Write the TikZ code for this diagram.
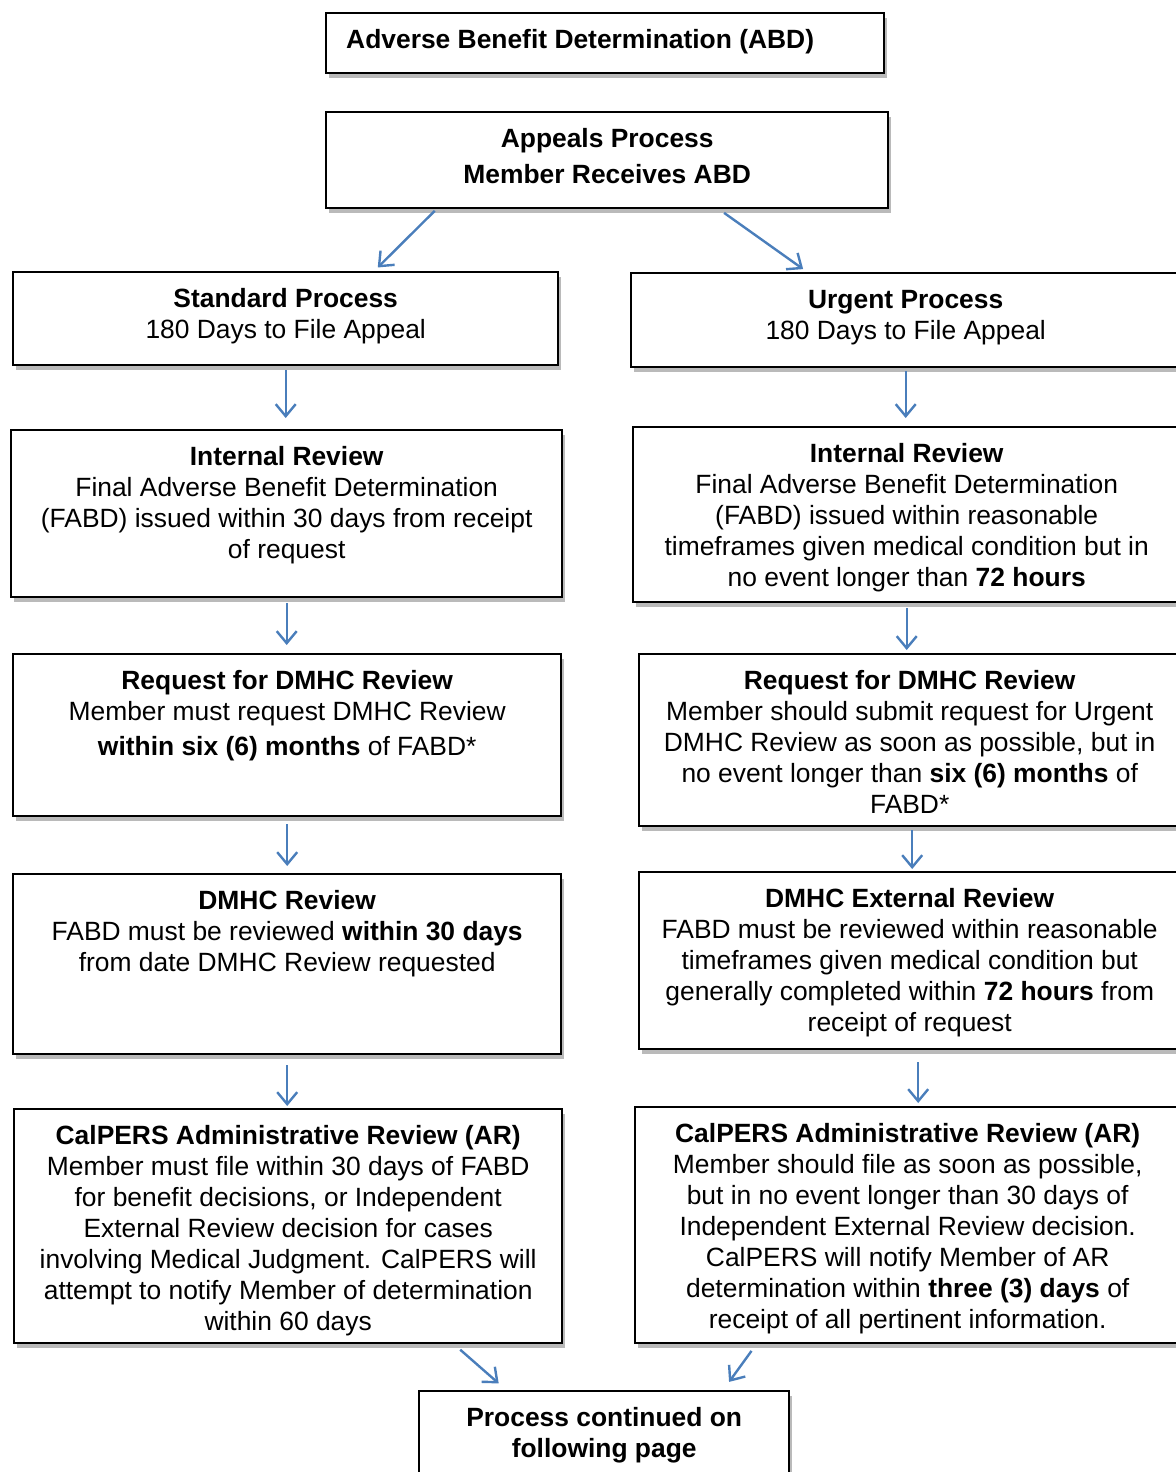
\documentclass[tikz,border=0pt]{standalone}
\usepackage{fontspec}
\setmainfont{Liberation Sans}
\usetikzlibrary{arrows.meta,shadows}
\definecolor{flowBlue}{HTML}{4A7EBB}
\tikzset{stepbox/.style={black,draw=black,fill=white,rectangle,line width=1.2pt,anchor=north west,inner xsep=4pt,inner ysep=0pt,font=\fontsize{13.2}{15.5}\selectfont,drop shadow={shadow xshift=1.2pt,shadow yshift=-2.2pt,opacity=0.45,fill=black!60}}}
\tikzset{flow/.style={draw=flowBlue,line width=1.2pt,-{Straight Barb[length=6pt,width=10pt]}}}
\newcommand{\boxtext}[3]{\parbox[c][#2][t]{\dimexpr#1-8pt\relax}{\centering\rule{0pt}{17.7pt}#3}}

\begin{document}
\begin{tikzpicture}[x=0.5pt,y=-0.5pt]
                \useasboundingbox (0,0) rectangle (1175,1472);

                \node[stepbox] (abd) at (325,12) {\boxtext{279pt}{30pt}{\raggedright\hspace*{6pt}\textbf{Adverse Benefit Determination (ABD)}}};
                \node[stepbox] (appeals) at (325,111) {\boxtext{281pt}{48pt}{\textbf{Appeals Process}\\[2.5pt]\textbf{Member Receives ABD}}};

                % standard process
                \node[stepbox] (standard) at (12,271) {\boxtext{272.5pt}{46.5pt}{\textbf{Standard Process}\\180 Days to File Appeal}};
                \node[stepbox] (stdInternal) at (10,429) {\boxtext{275.5pt}{83.5pt}{\textbf{Internal Review}\\Final Adverse Benefit Determination\\(FABD) issued within 30 days from receipt\\of request}};
                \node[stepbox] (stdRequest) at (12,653) {\boxtext{274pt}{81pt}{\textbf{Request for DMHC Review}\\Member must request DMHC Review\\[2pt]\textbf{within six (6) months} of FABD*}};
                \node[stepbox] (stdDmhc) at (12,873) {\boxtext{274pt}{90pt}{\textbf{DMHC Review}\\FABD must be reviewed \textbf{within 30 days}\\from date DMHC Review requested}};
                \node[stepbox] (stdCalpers) at (13,1108) {\boxtext{274pt}{117pt}{\textbf{CalPERS Administrative Review (AR)}\\Member must file within 30 days of FABD\\for benefit decisions, or Independent\\External Review decision for cases\\involving Medical Judgment. CalPERS will\\attempt to notify Member of determination\\within 60 days}};

                % urgent process
                \node[stepbox] (urgent) at (630,272) {\boxtext{274.5pt}{47pt}{\textbf{Urgent Process}\\180 Days to File Appeal}};
                \node[stepbox] (urgInternal) at (632,426) {\boxtext{273.5pt}{87.5pt}{\textbf{Internal Review}\\Final Adverse Benefit Determination\\(FABD) issued within reasonable\\timeframes given medical condition but in\\no event longer than \textbf{72 hours}}};
                \node[stepbox] (urgRequest) at (638,653) {\boxtext{270.5pt}{86pt}{\textbf{Request for DMHC Review}\\Member should submit request for Urgent\\DMHC Review as soon as possible, but in\\no event longer than \textbf{six (6) months} of\\FABD*}};
                \node[stepbox] (urgDmhc) at (638,871) {\boxtext{270.5pt}{88.5pt}{\textbf{DMHC External Review}\\FABD must be reviewed within reasonable\\timeframes given medical condition but\\generally completed within \textbf{72 hours} from\\receipt of request}};
                \node[stepbox] (urgCalpers) at (634,1106) {\boxtext{272.5pt}{118pt}{\textbf{CalPERS Administrative Review (AR)}\\Member should file as soon as possible,\\but in no event longer than 30 days of\\Independent External Review decision.\\CalPERS will notify Member of AR\\determination within \textbf{three (3) days} of\\receipt of all pertinent information.}};

                \node[stepbox] (continued) at (418,1390) {\boxtext{185pt}{47.5pt}{\textbf{Process continued on}\\\textbf{following page}}};

                \draw[flow,shorten <=1pt,shorten >=2.5pt] ([xshift=-85.5pt]appeals.south) -- ([xshift=44.25pt]standard.north);
                \draw[flow,shorten <=3pt,shorten >=2.5pt] ([xshift=56pt]appeals.south) -- ([xshift=-49.25pt]urgent.north);
                \draw[flow,shorten <=2pt,shorten >=5.5pt] (standard.south) -- (standard.south |- stdInternal.north);
                \draw[flow,shorten <=2.5pt,shorten >=4pt] (stdInternal.south) -- (stdInternal.south |- stdRequest.north);
                \draw[flow,shorten <=3.5pt,shorten >=3.5pt] (stdRequest.south) -- (stdRequest.south |- stdDmhc.north);
                \draw[flow,shorten <=5pt,shorten >=1pt] (stdDmhc.south) -- (stdDmhc.south |- stdCalpers.north);
                \draw[flow,shorten <=1.5pt,shorten >=4pt] (urgent.south) -- (urgent.south |- urgInternal.north);
                \draw[flow,shorten <=2.5pt,shorten >=1.5pt] (urgInternal.south) -- (urgInternal.south |- urgRequest.north);
                \draw[flow,shorten <=1.5pt,shorten >=1pt] ([xshift=1.25pt]urgRequest.south) -- ([xshift=1.25pt]urgRequest.south |- urgDmhc.north);
                \draw[flow,shorten <=6pt,shorten >=1.5pt] ([xshift=4.25pt]urgDmhc.south) -- ([xshift=4.25pt]urgDmhc.south |- urgCalpers.north);
                \draw[flow,shorten <=4pt,shorten >=5pt] ([xshift=83pt]stdCalpers.south) -- ([xshift=-49pt]continued.north);
                \draw[flow,shorten <=4pt,shorten >=5pt] ([xshift=-75.75pt]urgCalpers.south) -- ([xshift=59.5pt]continued.north);
                \end{tikzpicture}
\end{document}
